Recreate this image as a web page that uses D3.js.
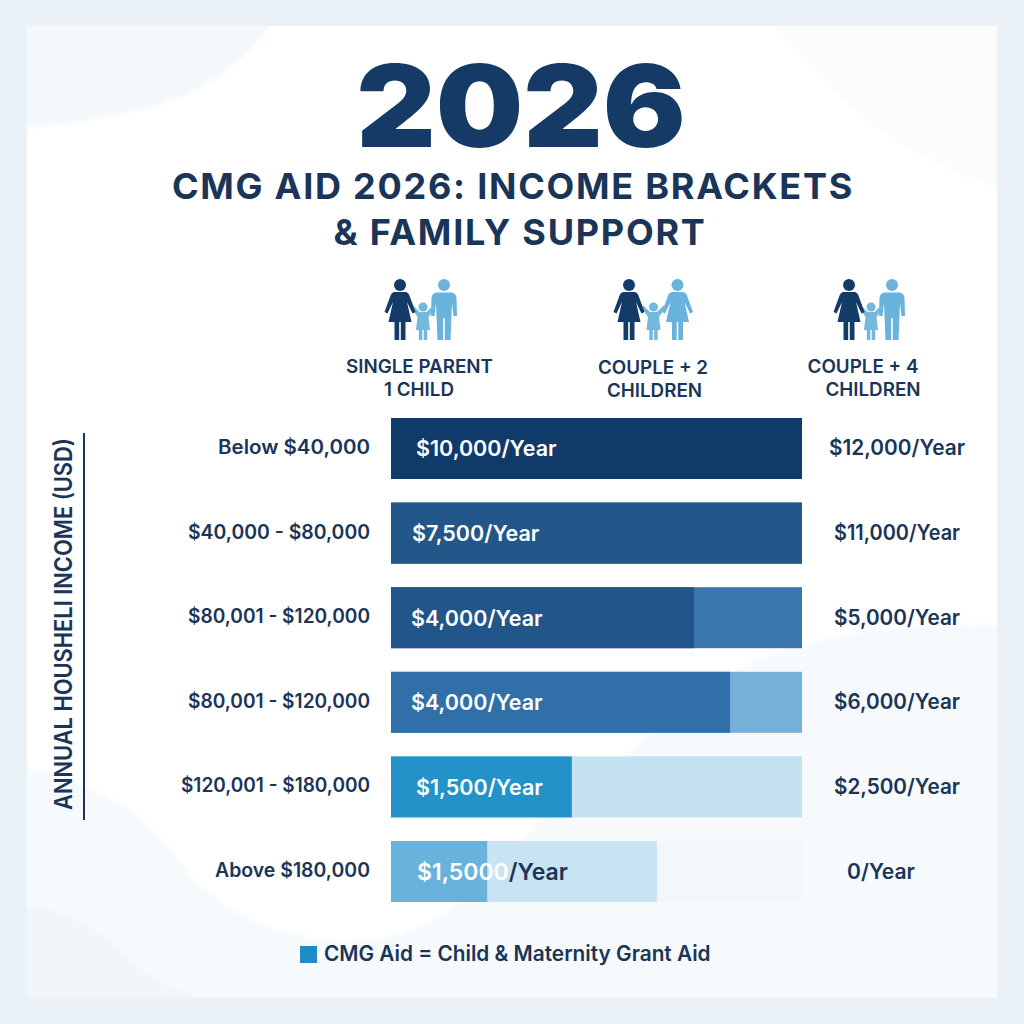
<!DOCTYPE html>
<html>
<head>
<meta charset="utf-8">
<script src="https://cdn.jsdelivr.net/npm/d3@7/dist/d3.min.js"></script>
<style>
  html, body { margin: 0; padding: 0; background: #eaf2f7; }
  svg { display: block; }
  text { font-family: Inter, "Noto Sans", sans-serif; }
</style>
</head>
<body>
<svg id="chart" width="1024" height="1024"></svg>
<script>
// Income brackets, top to bottom
const brackets = ["Below $40,000", "$40,000 - $80,000", "$80,001 - $120,000", "$80,001 - $120,000", "$120,001 - $180,000", "Above $180,000"];
// Printed aid amounts per household type
const leftLabels = ["$10,000", "$7,500", "$4,000", "$4,000", "$1,500", "$1,5000"];
const rightLabels = ["$12,000/Year", "$11,000/Year", "$5,000/Year", "$6,000/Year", "$2,500/Year", "0/Year"];
// Bar lengths on a 0-100 scale, front segment and pale backing segment
const frontShare = [100, 100, 73.7, 82.5, 44, 23.4];
const backShare = [100, 100, 100, 100, 100, 64.7];
const frontColors = ["#103a6a", "#235789", "#22558a", "#316fa9", "#2292c8", "#68b2dc"];
const backColors = ["#103a6a", "#235789", "#3a75ab", "#74b0d8", "#c5e2f0", "#c8e3f2"];
const households = [["SINGLE PARENT", "1 CHILD"], ["COUPLE + 2", "CHILDREN"], ["COUPLE + 4", "CHILDREN"]];

const navy = "#1a3558";
const titleBlue = "#153a66";
const dark = "#143a68";
const light = "#69b3dc";
const svg = d3.select("#chart");

// Backdrop, card and the soft washes behind the content
const defs = svg.append("defs");
defs.append("filter").attr("id", "soft").append("feGaussianBlur").attr("stdDeviation", 2);
defs.append("clipPath").attr("id", "card").append("rect")
  .attr("x", 27).attr("y", 26).attr("width", 970).attr("height", 972);

svg.append("rect").attr("width", 1024).attr("height", 1024).attr("fill", "#eaf2f7");
svg.append("rect").attr("x", 27).attr("y", 26).attr("width", 970).attr("height", 972).attr("fill", "#ffffff");

const washes = svg.append("g").attr("clip-path", "url(#card)").append("g").attr("filter", "url(#soft)");
[
  ["M20,128 C90,122 170,110 215,78 C245,58 262,40 271,20 L20,20 Z", "#f4f8fb"],
  ["M905,20 C925,50 940,85 1004,98 L1004,20 Z", "#f4f8fb"],
  ["M778,30 C830,90 880,150 1004,190 L1004,20 L778,20 Z", "#fafcfe"],
  ["M1004,625 C880,622 770,640 705,690 C650,735 610,770 560,805 C505,850 480,905 400,935 C300,952 225,925 170,850 C135,805 95,785 20,765 L20,1004 L1004,1004 Z", "#f6fafc"],
  ["M20,908 C70,905 105,935 135,965 C160,985 185,992 215,1004 L20,1004 Z", "#f1f6fa"]
].forEach(([d, fill]) => washes.append("path").attr("d", d).attr("fill", fill));

const x = d3.scaleLinear().domain([0, 100]).range([391, 802]);
const y = d3.scaleBand().domain(d3.range(brackets.length)).range([418, 902]).paddingInner(0.279).paddingOuter(0);

// Heading
svg.append("text").attr("transform", "translate(521,147) scale(1.08,1)").attr("text-anchor", "middle")
  .attr("font-size", 114).attr("font-weight", 900).attr("fill", titleBlue).text("2026");
svg.append("text").attr("x", 513).attr("y", 199).attr("text-anchor", "middle")
  .attr("font-size", 36).attr("font-weight", 700).attr("letter-spacing", 1.75).attr("fill", navy).text("CMG AID 2026: INCOME BRACKETS");
svg.append("text").attr("x", 520).attr("y", 245).attr("text-anchor", "middle")
  .attr("font-size", 36).attr("font-weight", 700).attr("letter-spacing", 1.75).attr("fill", navy).text("& FAMILY SUPPORT");

// Family pictograms: figures are drawn around the centre of their head
const womanBody = "M-6,7 L6,7 Q9,8 10,12 L15.5,27 L12.5,28.5 L7,17 L11.5,37 L5.5,37 L5.5,55 L0.8,55 L0.8,37 L-0.8,37 L-0.8,55 L-5.5,55 L-5.5,37 L-11.5,37 L-7,17 L-12.5,28.5 L-15.5,27 L-10,12 Q-9,8 -6,7 Z";
const manBody = "M-7.5,7.5 L7.5,7.5 Q12,8 12.5,13 L13,31 L9.5,31 L8,18 L6.5,55 L0.8,55 L0.8,33 L-0.8,33 L-0.8,55 L-6.5,55 L-8,18 L-9.5,31 L-13,31 L-12.5,13 Q-12,8 -7.5,7.5 Z";
const childBody = "M-3.5,5 L3.5,5 L10,-1.5 L12,0.5 L5.5,10 L7,23 L4.2,23 L4.2,33 L0.7,33 L0.7,23 L-0.7,23 L-0.7,33 L-4.2,33 L-4.2,23 L-7,23 L-5.5,10 L-12,0.5 L-10,-1.5 Z";

function figure(g, cx, cy, r, body, fill) {
  const f = g.append("g").attr("transform", `translate(${cx},${cy})`).attr("fill", fill);
  f.append("circle").attr("r", r);
  f.append("path").attr("d", body);
}
const familyIcons = [
  { woman: 400, partner: 444, child: 423, partnerBody: manBody },
  { woman: 629, partner: 677.5, child: 653.5, partnerBody: womanBody },
  { woman: 849, partner: 892, child: 871, partnerBody: manBody }
];
const icons = svg.append("g");
familyIcons.forEach(ic => {
  figure(icons, ic.partner, 285, 6, ic.partnerBody, light);
  figure(icons, ic.child, 307, 4.5, childBody, "#74b8de");
  figure(icons, ic.woman, 285, 6, womanBody, dark);
});

// Household captions under each pictogram
const captionCentres = [[419.5, 419], [653, 654.5], [863, 873]];
const captionBaselines = [[373, 396], [374, 397], [373, 396]];
households.forEach((lines, h) => lines.forEach((line, l) => {
  svg.append("text").attr("x", captionCentres[h][l]).attr("y", captionBaselines[h][l])
    .attr("text-anchor", "middle").attr("font-size", 18.8).attr("font-weight", 600).attr("fill", navy).text(line);
}));

// Bars
const rows = svg.append("g").selectAll("g").data(brackets).join("g");
rows.append("rect").attr("x", x(0)).attr("y", (d, i) => y(i)).attr("height", y.bandwidth())
  .attr("width", x(100) - x(0)).attr("fill", "#f2f7fb");
rows.append("rect").attr("x", x(0)).attr("y", (d, i) => y(i)).attr("height", y.bandwidth())
  .attr("width", (d, i) => x(backShare[i]) - x(0)).attr("fill", (d, i) => backColors[i]);
rows.append("rect").attr("x", x(0)).attr("y", (d, i) => y(i)).attr("height", y.bandwidth())
  .attr("width", (d, i) => x(frontShare[i]) - x(0)).attr("fill", (d, i) => frontColors[i]);

// Bracket names; each is fitted to its printed run
const bracketWidths = [152, 182, 182, 182, 189, 155];
rows.append("text").attr("x", 370).attr("y", (d, i) => y(i) + y.bandwidth() / 2 + 5.5)
  .attr("text-anchor", "end").attr("font-size", 19.5).attr("font-weight", 600).attr("fill", navy)
  .attr("textLength", (d, i) => bracketWidths[i]).attr("lengthAdjust", "spacingAndGlyphs").text(d => d);

// Amounts inside the bars, the last row's unit falls on the pale segment
const amountStarts = [416, 412, 411, 411, 416, 417];
const amounts = rows.append("text").attr("x", (d, i) => amountStarts[i]).attr("y", (d, i) => y(i) + y.bandwidth() / 2 + 8)
  .attr("font-size", (d, i) => i === 5 ? 23 : 21.5).attr("font-weight", 600).attr("fill", "#ffffff");
amounts.append("tspan").text((d, i) => leftLabels[i]);
amounts.append("tspan").attr("fill", (d, i) => i === 5 ? navy : "#ffffff").text("/Year");

// Second household amounts to the right of the bars
const rightWidths = [136, 126, 126, 126, 126, 68];
rows.append("text").attr("x", (d, i) => i === 5 ? 881 : 897).attr("y", (d, i) => y(i) + y.bandwidth() / 2 + 7)
  .attr("text-anchor", "middle").attr("font-size", 21).attr("font-weight", 600).attr("fill", navy)
  .attr("textLength", (d, i) => rightWidths[i]).attr("lengthAdjust", "spacingAndGlyphs").text((d, i) => rightLabels[i]);

// Axis caption and rule
svg.append("text").attr("transform", "translate(72,624) rotate(-90)").attr("text-anchor", "middle")
  .attr("font-size", 24).attr("font-weight", 600).attr("fill", navy)
  .attr("textLength", 372).attr("lengthAdjust", "spacingAndGlyphs").text("ANNUAL HOUSHELI INCOME (USD)");
svg.append("line").attr("x1", 84).attr("x2", 84).attr("y1", 433).attr("y2", 820).attr("stroke", navy).attr("stroke-width", 2);

// Legend
svg.append("rect").attr("x", 300).attr("y", 946).attr("width", 17).attr("height", 17).attr("fill", "#1f8cc4");
svg.append("text").attr("x", 324).attr("y", 961).attr("font-size", 20.8).attr("font-weight", 600).attr("fill", navy).text("CMG Aid = Child & Maternity Grant Aid");
</script>
</body>
</html>
